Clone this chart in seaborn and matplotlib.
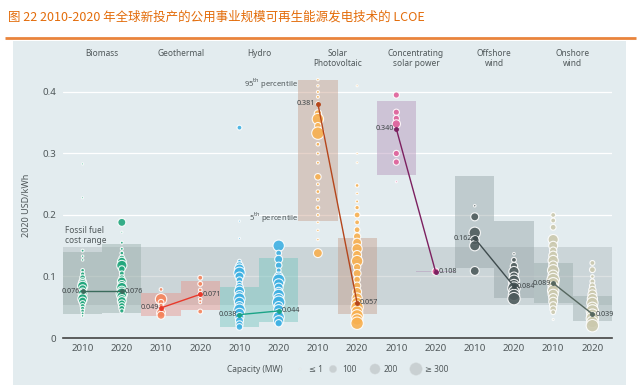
import pandas as pd
import matplotlib
matplotlib.use('Agg')
import matplotlib.pyplot as plt
import matplotlib.transforms as mtransforms
from matplotlib.patches import Rectangle
import seaborn as sns

# technologies and colours
techs = ['Biomass', 'Geothermal', 'Hydro', 'Solar\nPhotovoltaic',
         'Concentrating\nsolar power', 'Offshore\nwind', 'Onshore\nwind']
years = ['2010', '2020']
point_colors = ['#22a77d', '#f5845c', '#3fb1e3', '#f8b050', '#e0609a', '#4e5b5c', '#cbc9ae']
line_colors = ['#3b6b5c', '#e8392b', '#1aa487', '#b5461c', '#7c2060', '#3f4c4e', '#56675f']
box_colors = ['#97ada8', '#e9938a', '#74c5bf', '#c69d89', '#b391b8', '#95a4a6', '#9aabab']

# weighted averages (labels)
lcoe_2010 = [0.076, 0.049, 0.038, 0.381, 0.340, 0.162, 0.089]
lcoe_2020 = [0.076, 0.071, 0.044, 0.057, 0.108, 0.084, 0.039]

# 5th / 95th percentile boxes
p5_2010 = [0.039, 0.036, 0.018, 0.190, 0.265, 0.114, 0.057]
p95_2010 = [0.140, 0.073, 0.083, 0.420, 0.385, 0.263, 0.122]
p5_2020 = [0.041, 0.046, 0.026, 0.039, 0.107, 0.065, 0.028]
p95_2020 = [0.153, 0.093, 0.130, 0.162, 0.109, 0.190, 0.068]

fossil_low, fossil_high = 0.054, 0.148

# individual projects: LCOE (USD/kWh) and capacity (MW)
biomass_2010_lcoe = [0.283, 0.228, 0.142, 0.133, 0.127, 0.110, 0.104, 0.098, 0.092, 0.088, 0.084, 0.080,
                     0.076, 0.072, 0.068, 0.064, 0.060, 0.056, 0.052, 0.048, 0.044, 0.040, 0.036]
biomass_2010_mw = [1, 1, 10, 5, 5, 20, 30, 60, 100, 150, 200, 120, 80, 150, 100, 180, 120, 60, 40, 30, 20, 10, 5]
biomass_2020_lcoe = [0.188, 0.172, 0.155, 0.145, 0.138, 0.130, 0.124, 0.118, 0.112, 0.105, 0.098, 0.092,
                     0.087, 0.082, 0.077, 0.072, 0.068, 0.064, 0.060, 0.056, 0.052, 0.048, 0.044]
biomass_2020_mw = [120, 1, 10, 10, 20, 60, 150, 200, 80, 40, 60, 150, 120, 200, 150, 250, 180, 120, 150, 100, 80, 60, 30]

geo_2010_lcoe = [0.079, 0.063, 0.058, 0.053, 0.046, 0.041, 0.037]
geo_2010_mw = [20, 250, 60, 30, 20, 150, 120]
geo_2020_lcoe = [0.098, 0.088, 0.078, 0.071, 0.063, 0.058, 0.043]
geo_2020_mw = [40, 40, 20, 40, 20, 10, 40]

hydro_2010_lcoe = [0.342, 0.190, 0.162, 0.125, 0.118, 0.112, 0.106, 0.100, 0.094, 0.088, 0.082,
                   0.076, 0.070, 0.064, 0.058, 0.052, 0.046, 0.040, 0.034, 0.028, 0.022, 0.018]
hydro_2010_mw = [40, 1, 1, 20, 100, 200, 250, 150, 80, 60, 120, 200, 150, 250, 200, 150, 250, 200, 150, 120, 100, 80]
hydro_2020_lcoe = [0.150, 0.138, 0.128, 0.118, 0.110, 0.100, 0.094, 0.088, 0.082, 0.076,
                   0.070, 0.064, 0.058, 0.052, 0.046, 0.040, 0.034, 0.028, 0.024]
hydro_2020_mw = [250, 60, 120, 80, 40, 150, 300, 200, 150, 120, 250, 200, 300, 150, 200, 150, 250, 200, 100]

pv_2010_lcoe = [0.420, 0.410, 0.400, 0.392, 0.381, 0.365, 0.356, 0.345, 0.333, 0.315, 0.300, 0.285,
                0.262, 0.250, 0.238, 0.225, 0.212, 0.200, 0.188, 0.175, 0.160, 0.138]
pv_2010_mw = [5, 5, 10, 10, 20, 100, 250, 80, 300, 20, 10, 10, 80, 10, 20, 10, 20, 10, 5, 5, 5, 150]
pv_2020_lcoe = [0.410, 0.300, 0.285, 0.248, 0.235, 0.222, 0.212, 0.200, 0.188, 0.176, 0.165, 0.155,
                0.145, 0.135, 0.125, 0.115, 0.105, 0.095, 0.085, 0.075, 0.065, 0.057, 0.050,
                0.043, 0.036, 0.030, 0.024]
pv_2020_mw = [1, 1, 1, 20, 5, 10, 30, 60, 40, 60, 100, 150, 200, 150, 250, 100, 120, 80, 100,
              150, 200, 250, 300, 250, 300, 250, 300]

csp_2010_lcoe = [0.395, 0.367, 0.357, 0.348, 0.300, 0.286, 0.254]
csp_2010_mw = [70, 70, 70, 130, 70, 70, 1]
csp_2020_lcoe = [0.108]
csp_2020_mw = [90]

offshore_2010_lcoe = [0.215, 0.197, 0.171, 0.159, 0.150, 0.109]
offshore_2010_mw = [5, 120, 250, 150, 200, 150]
offshore_2020_lcoe = [0.137, 0.127, 0.117, 0.108, 0.100, 0.093, 0.087, 0.081, 0.076, 0.070, 0.064]
offshore_2020_mw = [5, 40, 100, 200, 150, 250, 200, 300, 200, 250, 300]

onshore_2010_lcoe = [0.200, 0.191, 0.180, 0.160, 0.150, 0.142, 0.134, 0.126, 0.118, 0.110, 0.102,
                     0.095, 0.089, 0.083, 0.077, 0.071, 0.065, 0.059, 0.053, 0.047, 0.042, 0.030]
onshore_2010_mw = [40, 40, 60, 200, 150, 100, 150, 200, 150, 250, 200, 300, 250, 200, 250, 200,
                   150, 150, 100, 80, 40, 1]
onshore_2020_lcoe = [0.122, 0.111, 0.100, 0.092, 0.085, 0.078, 0.071, 0.064, 0.057, 0.050,
                     0.044, 0.038, 0.032, 0.026, 0.020]
onshore_2020_mw = [40, 60, 20, 40, 60, 100, 150, 200, 250, 200, 300, 250, 300, 250, 300]

projects = [
    (biomass_2010_lcoe, biomass_2010_mw), (biomass_2020_lcoe, biomass_2020_mw),
    (geo_2010_lcoe, geo_2010_mw), (geo_2020_lcoe, geo_2020_mw),
    (hydro_2010_lcoe, hydro_2010_mw), (hydro_2020_lcoe, hydro_2020_mw),
    (pv_2010_lcoe, pv_2010_mw), (pv_2020_lcoe, pv_2020_mw),
    (csp_2010_lcoe, csp_2010_mw), (csp_2020_lcoe, csp_2020_mw),
    (offshore_2010_lcoe, offshore_2010_mw), (offshore_2020_lcoe, offshore_2020_mw),
    (onshore_2010_lcoe, onshore_2010_mw), (onshore_2020_lcoe, onshore_2020_mw),
]

# capacity legend
legend_mw = [1, 100, 200, 300]
legend_labels = ['≤ 1', '100', '200', '≥ 300']

TITLE = '图 22 2010-2020 年全球新投产的公用事业规模可再生能源发电技术的 LCOE'
PANEL = '#e3ecef'
TEXT = '#50585a'
SIZES = (2, 80)


def bubble_area(mw):
    # same linear area mapping that seaborn uses below
    return SIZES[0] + (SIZES[1] - SIZES[0]) * (mw - 1) / 299


rows = []
for i, (vals, caps) in enumerate(projects):
    for v, c in zip(vals, caps):
        rows.append({'pos': i, 'tech': techs[i // 2], 'lcoe': v, 'mw': c})
df = pd.DataFrame(rows)

sns.set_style('white')
plt.rcParams['font.family'] = ['Noto Sans', 'DejaVu Sans']

fig = plt.figure(figsize=(6.41, 3.92), dpi=100)
fig.patch.set_facecolor('white')

# background layer in pixel coordinates
bg = fig.add_axes([0, 0, 1, 1], zorder=0)
bg.set_xlim(0, 641)
bg.set_ylim(392, 0)
bg.axis('off')
bg.add_patch(Rectangle((13, 41), 613, 344, color=PANEL, lw=0))
bg.plot([5, 636], [38, 38], color='#e9843c', lw=2, solid_capstyle='butt')
bg.text(8, 17, TITLE, color='#e36c0a', fontsize=9, va='center',
        family=['Noto Sans CJK SC', 'DejaVu Sans'])
bg.text(227, 369, 'Capacity (MW)', color=TEXT, fontsize=6, va='center')
legend_x = [300, 333, 375, 416]
bg.scatter(legend_x, [369] * 4, s=[bubble_area(m) for m in legend_mw],
           c=['white', '#c9d0d2', '#c9d0d2', '#c9d0d2'], edgecolors='#d3d9db', linewidths=0.3)
for lx, lab in zip(legend_x, legend_labels):
    bg.text(lx + 9, 369, lab, color=TEXT, fontsize=6, va='center')

ax = fig.add_axes([63 / 641, (392 - 338) / 392, 549 / 641, 264.5 / 392], zorder=1)
ax.set_facecolor('none')
ax.set_xlim(-0.5, 13.5)
ax.set_ylim(0, 0.43)

for y in [0.1, 0.2, 0.3, 0.4]:
    ax.axhline(y, color='white', lw=0.9, zorder=0.5)

# fossil fuel range and percentile boxes
ax.axhspan(fossil_low, fossil_high, color='#a9b4b7', alpha=0.4, lw=0, zorder=1)
for t in range(len(techs)):
    ax.bar(2 * t, p95_2010[t] - p5_2010[t], bottom=p5_2010[t], width=1,
           color=box_colors[t], alpha=0.45, lw=0, zorder=1.5)
    ax.bar(2 * t + 1, p95_2020[t] - p5_2020[t], bottom=p5_2020[t], width=1,
           color=box_colors[t], alpha=0.45, lw=0, zorder=1.5)

sns.scatterplot(data=df, x='pos', y='lcoe', hue='tech', palette=dict(zip(techs, point_colors)),
                size='mw', sizes=SIZES, size_norm=(1, 300), edgecolor='white', linewidth=0.8,
                alpha=0.9, legend=False, ax=ax, zorder=3)

for t in range(len(techs)):
    ax.plot([2 * t, 2 * t + 1], [lcoe_2010[t], lcoe_2020[t]], color=line_colors[t], lw=1,
            marker='o', ms=2.5, zorder=4)
    ax.text(2 * t - 0.06, lcoe_2010[t], f'{lcoe_2010[t]:.3f}', ha='right', va='center',
            fontsize=5.2, color='#3e4547', zorder=5)
    ax.text(2 * t + 1 + 0.07, lcoe_2020[t], f'{lcoe_2020[t]:.3f}', ha='left', va='center',
            fontsize=5.2, color='#3e4547', zorder=5)

# technology names above
name_tf = mtransforms.blended_transform_factory(ax.transData, fig.transFigure)
for t, name in enumerate(techs):
    ax.text(2 * t + 0.5, 1 - 49 / 392, name, transform=name_tf,
            ha='center', va='top', fontsize=6, color=TEXT, linespacing=1.15)

ax.text(5.5, 0.414, '95$^{\\mathrm{th}}$ percentile', ha='right', va='center', fontsize=5.5, color=TEXT)
ax.text(5.5, 0.196, '5$^{\\mathrm{th}}$ percentile', ha='right', va='center', fontsize=5.5, color=TEXT)
ax.text(-0.45, 0.182, 'Fossil fuel\ncost range', ha='left', va='top', fontsize=6, color=TEXT,
        linespacing=1.2)

ax.set_xticks(range(14))
ax.set_xticklabels(years * 7)
ax.set_xticks([i - 0.5 for i in range(15)], minor=True)
ax.tick_params(axis='x', which='major', length=0, pad=4, labelsize=7, labelcolor=TEXT)
ax.tick_params(axis='x', which='minor', direction='in', length=2.5, width=1, color='#444')
ax.set_yticks([0, 0.1, 0.2, 0.3, 0.4])
ax.set_yticklabels(['0', '0.1', '0.2', '0.3', '0.4'])
ax.tick_params(axis='y', length=0, pad=5, labelsize=7, labelcolor=TEXT)
ax.set_xlabel('')
ax.set_ylabel('2020 USD/kWh', fontsize=6.5, color=TEXT, labelpad=8)
for side in ['left', 'right', 'top']:
    ax.spines[side].set_visible(False)
ax.spines['bottom'].set_color('#444')
ax.spines['bottom'].set_linewidth(1.2)

fig.savefig('out.png', dpi=100, facecolor='white')
